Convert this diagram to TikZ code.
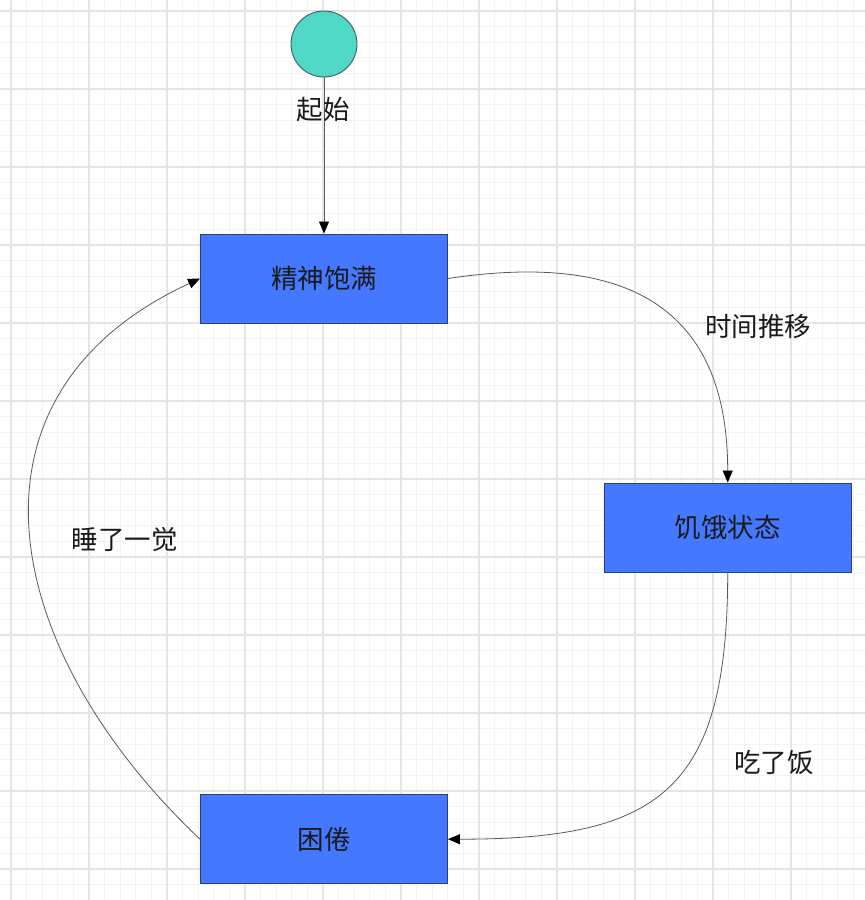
\documentclass[tikz,border=0pt]{standalone}
\usepackage{fontspec}
\newfontfamily\cjk{Noto Sans CJK SC}
\usetikzlibrary{arrows.meta}
\definecolor{boxfill}{HTML}{4479FF}
\definecolor{boxline}{HTML}{2B3F78}
\definecolor{startfill}{HTML}{4FD8C4}
\definecolor{startline}{HTML}{3D5F6E}
\definecolor{minorgrid}{HTML}{F3F3F3}
\definecolor{majorgrid}{HTML}{E5E5E5}
\definecolor{edgecol}{HTML}{5A5A5A}
\definecolor{txt}{HTML}{1A1A1A}
\tikzset{
  statebox/.style={draw=boxline, fill=boxfill, line width=0.9pt, minimum width=247pt, minimum height=89pt, inner sep=0pt, font=\cjk\fontsize{26.5}{30}\selectfont, text=txt},
  startnode/.style={circle, draw=startline, fill=startfill, line width=0.9pt, minimum size=66pt, inner sep=0pt},
  lbl/.style={font=\cjk\fontsize{26.5}{30}\selectfont, text=txt, inner sep=0pt},
  edge/.style={draw=edgecol, line width=0.8pt, -{Triangle[length=12pt,width=10pt,fill=black,color=black]}},
  mgrid/.style={draw=minorgrid, line width=0.8pt},
  Mgrid/.style={draw=majorgrid, line width=1.1pt}
}
\begin{document}
\begin{tikzpicture}[x=1pt,y=-1pt]
\useasboundingbox (0,0) rectangle (865,900);
\fill[white] (0,0) rectangle (865,900);
\foreach \k in {-1,...,55} {\draw[mgrid] ({11+15.6*\k},0) -- ({11+15.6*\k},900);}
\foreach \k in {-1,...,57} {\draw[mgrid] (0,{11+15.6*\k}) -- (865,{11+15.6*\k});}
\foreach \k in {0,...,11} {\draw[Mgrid] ({11+78*\k},0) -- ({11+78*\k},900);}
\foreach \k in {0,...,11} {\draw[Mgrid] (0,{11+78*\k}) -- (865,{11+78*\k});}

\node[startnode] (start) at (324,44) {};
\node[statebox] (full) at (324,278.5) {精神饱满};
\node[statebox] (hungry) at (727.7,527.5) {饥饿状态};
\node[statebox] (sleepy) at (324,839.2) {困倦};

\draw[edge] (start.south) -- (full.north);
\draw[edge] (full.east) .. controls +(153,-23) and +(0,-195) .. (hungry.north);
\draw[edge] (hungry.south) .. controls +(0,218) and +(212,0) .. (sleepy.east);
\draw[edge] (sleepy.west) .. controls (0,650) and (-52,395) .. (full.west);

\node[lbl] (l1) at (323,110) {起始};
\node[lbl] (l2) at (758,326) {时间推移};
\node[lbl] (l3) at (774,762) {吃了饭};
\node[lbl] (l4) at (124.5,540) {睡了一觉};
\end{tikzpicture}
\end{document}
